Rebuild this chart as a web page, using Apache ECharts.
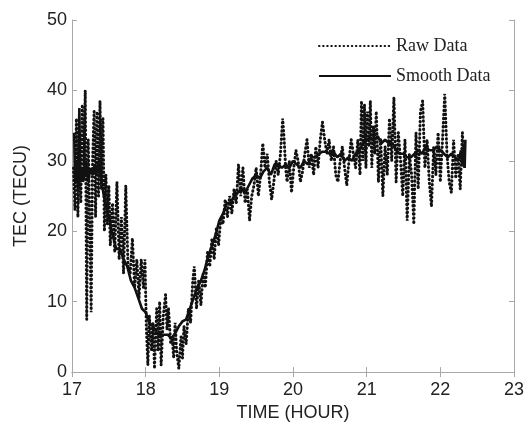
<!DOCTYPE html>
<html><head><meta charset="utf-8">
<script src="https://cdn.jsdelivr.net/npm/echarts@6/dist/echarts.min.js"></script>
<style>html,body{margin:0;padding:0;background:#fff}#c{width:532px;height:427px}</style>
</head><body><div id="c"></div>
<script>
const xTicks = [17, 18, 19, 20, 21, 22, 23];
const yTicks = [0, 10, 20, 30, 40, 50];

const rawTime = [17.02,17.04,17.06,17.08,17.10,17.12,17.14,17.16,17.18,17.20,17.22,17.24,17.26,17.28,17.30,17.32,17.34,17.36,17.38,17.40,17.42,17.44,17.46,17.48,17.50,17.52,17.55,17.58,17.61,17.64,17.67,17.70,17.73,17.76,17.79,17.82,17.85,17.88,17.91,17.94,17.97,17.99,18.01,18.03,18.05,18.08,18.10,18.12,18.15,18.17,18.19,18.21,18.24,18.27,18.29,18.31,18.34,18.36,18.38,18.40,18.42,18.45,18.48,18.50,18.52,18.55,18.58,18.61,18.64,18.66,18.69,18.72,18.75,18.78,18.81,18.84,18.87,18.90,18.93,18.96,18.99,19.02,19.05,19.08,19.11,19.14,19.17,19.20,19.23,19.26,19.29,19.32,19.35,19.38,19.41,19.44,19.47,19.50,19.53,19.56,19.59,19.62,19.65,19.68,19.71,19.74,19.77,19.80,19.83,19.86,19.88,19.90,19.92,19.95,19.98,20.01,20.04,20.07,20.10,20.13,20.16,20.19,20.22,20.25,20.28,20.31,20.34,20.37,20.40,20.43,20.46,20.49,20.52,20.55,20.58,20.61,20.64,20.67,20.70,20.73,20.76,20.79,20.82,20.85,20.88,20.91,20.93,20.95,20.97,20.99,21.01,21.03,21.05,21.07,21.09,21.11,21.13,21.16,21.19,21.22,21.25,21.28,21.31,21.34,21.37,21.40,21.43,21.46,21.49,21.52,21.55,21.58,21.61,21.64,21.67,21.70,21.73,21.76,21.79,21.82,21.85,21.88,21.91,21.94,21.97,22.00,22.03,22.06,22.09,22.12,22.15,22.18,22.21,22.24,22.27,22.30,22.32];
const rawTEC = [29,23,36,22,34,24,38,28,40,7.5,33,22,8.5,30,37,22,37,25,38.5,26,36,20,28,21,26.5,18,24,17,27,16,22,14,26.5,15,14,19,12,16,10.5,16,12,16,6,1,8,3,7,0.5,9,3,10,1,8,11,6,9,4,5,2,7,3,0.5,5,2,6.5,4,9,7,13,15,9,13,9.5,14,12,17,15,19,16,20.5,18,22,21,24.5,22,25,22.5,26,24,29.5,25,29,24,26,21.5,25,26.5,29,25,28,32.5,29,31,27,24.5,27,30,28,31,36,33,29,27,30,25.5,29,31.5,30,27,28.5,31,33,29,31,28,32,29,33,35.5,33,31,33,30,32,28,27,30,32,29,26.5,30,33,31,29,33,28,38.5,30,38,29,37,32,38.5,29,35,31,37,27,33,25,32,28,36,30,39,27,34,30,25,33,21.5,31,28,21,34,26,37,38.5,29,33,27,23.5,32,28,34,27,33,39.5,31,27,25.5,33,27.5,31,26,34,29];

const smoothTime = [17.03,17.04,17.06,17.08,17.10,17.11,17.13,17.15,17.17,17.19,17.22,17.25,17.28,17.31,17.33,17.36,17.40,17.45,17.50,17.55,17.60,17.65,17.70,17.75,17.80,17.85,17.90,17.95,18.00,18.05,18.10,18.15,18.20,18.25,18.30,18.35,18.40,18.45,18.50,18.55,18.60,18.65,18.70,18.75,18.80,18.85,18.90,18.95,19.00,19.05,19.10,19.15,19.20,19.25,19.30,19.35,19.40,19.45,19.50,19.55,19.60,19.65,19.70,19.75,19.80,19.85,19.90,19.95,20.00,20.05,20.10,20.15,20.20,20.25,20.30,20.35,20.40,20.45,20.50,20.55,20.60,20.65,20.70,20.75,20.80,20.85,20.90,20.95,21.00,21.05,21.10,21.15,21.20,21.25,21.30,21.35,21.40,21.45,21.50,21.55,21.60,21.65,21.70,21.75,21.80,21.85,21.90,21.95,22.00,22.05,22.10,22.15,22.20,22.25,22.28,22.30,22.32,22.33,22.34];
const smoothTEC = [34,27,30,26,37.5,27,29,27,28,30,27,29,28,29.5,28,30,27,24,22,19.5,17.5,17.5,16,15,13,12,10.5,9,8.5,7,6.5,5.5,5.3,5.3,5.3,4.8,5.5,6.5,7.2,7.5,9,10.5,12,13,14.5,16.5,18,19.5,21.5,22.5,24,24,25,25.5,26,25.5,26.5,27.5,28,27.5,28.5,29,28,29.5,29.5,29,29.5,29,30,29.5,29,30,29.5,30.5,30.5,31,31.3,31.3,31,31.3,30.5,31,30,30.5,30,31,31.5,32.5,33,33.3,33,33.5,32.5,33,32.5,32.5,31.5,31,31,30.5,30.5,31,31.5,31,32,31.5,31.5,32,31.5,31,30.5,31,30.5,30,31.5,29.5,32.5,29,33];

const rawPairs = rawTime.map((t, i) => [t, rawTEC[i]]);
const smoothPairs = smoothTime.map((t, i) => [t, smoothTEC[i]]);

const chart = echarts.init(document.getElementById('c'), null, {renderer: 'canvas'});
const frame = '#a8a8a8';
const sans = 'Liberation Sans';
const baseX = {
  type: 'value', min: xTicks[0], max: xTicks[xTicks.length - 1], interval: 1,
  axisLine: {show: true, lineStyle: {color: frame, width: 1}},
  axisTick: {show: true, inside: true, length: 5, lineStyle: {color: frame}},
  splitLine: {show: false}
};
const baseY = {
  type: 'value', min: yTicks[0], max: yTicks[yTicks.length - 1], interval: 10,
  axisLine: {show: true, lineStyle: {color: frame, width: 1}},
  axisTick: {show: true, inside: true, length: 5, lineStyle: {color: frame}},
  splitLine: {show: false}
};
chart.setOption({
  animation: false,
  backgroundColor: '#fff',
  grid: {left: 72, right: 18, top: 20, bottom: 54},
  legend: {
    orient: 'vertical', left: 313, top: 32, itemWidth: 72, itemHeight: 16, itemGap: 12,
    itemStyle: {opacity: 0},
    textStyle: {fontFamily: 'Liberation Serif', fontSize: 18, color: '#222'},
    data: ['Raw Data', 'Smooth Data']
  },
  xAxis: [
    Object.assign({}, baseX, {
      position: 'bottom',
      axisLabel: {show: true, margin: 9, fontFamily: sans, fontSize: 18, color: '#222'},
      name: 'TIME (HOUR)', nameLocation: 'middle', nameGap: 28,
      nameTextStyle: {fontFamily: sans, fontSize: 18, color: '#222'}
    }),
    Object.assign({}, baseX, {position: 'top', axisLabel: {show: false}})
  ],
  yAxis: [
    Object.assign({}, baseY, {
      position: 'left',
      axisLabel: {show: true, margin: 5, fontFamily: sans, fontSize: 18, color: '#222'},
      name: 'TEC (TECU)', nameLocation: 'middle', nameGap: 42,
      nameTextStyle: {fontFamily: sans, fontSize: 18, color: '#222'}
    }),
    Object.assign({}, baseY, {position: 'right', axisLabel: {show: false}})
  ],
  series: [
    {
      name: 'Raw Data', type: 'line', data: rawPairs, showSymbol: false, symbol: 'none',
      lineStyle: {color: '#111', width: 3, type: [0.5, 3.6], cap: 'round'},
      itemStyle: {color: '#111'}, z: 2
    },
    {
      name: 'Smooth Data', type: 'line', data: smoothPairs, showSymbol: false, symbol: 'none',
      lineStyle: {color: '#111', width: 2.6}, itemStyle: {color: '#111'}, z: 3
    }
  ]
});
</script>
</body></html>
